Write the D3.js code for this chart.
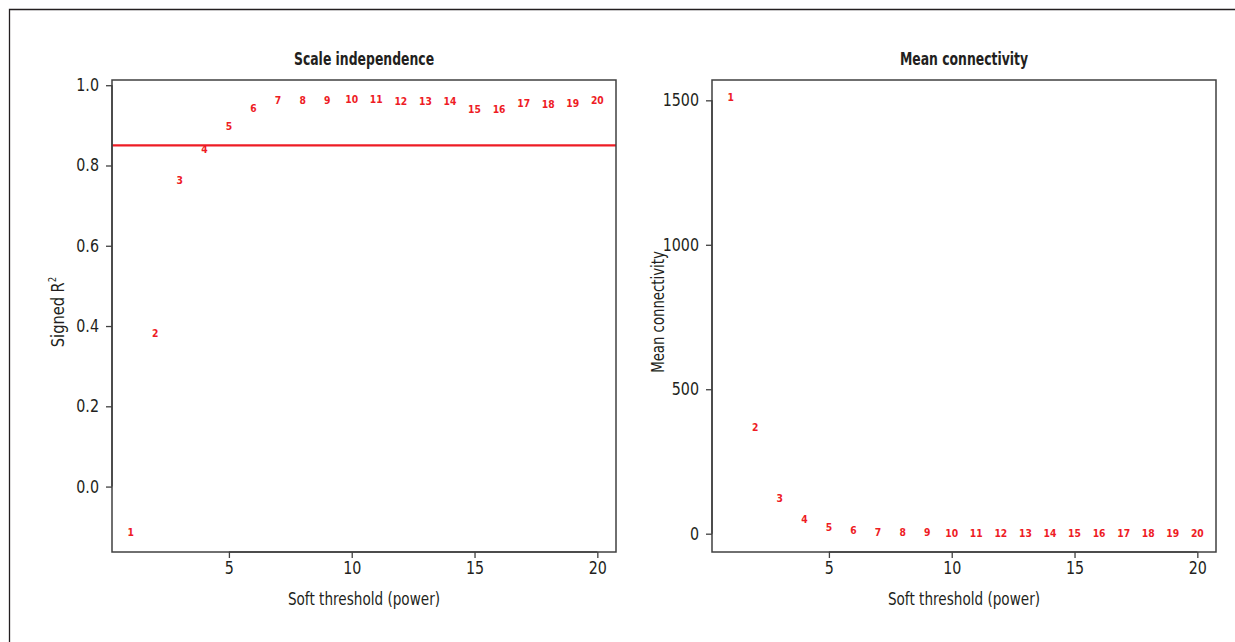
<!DOCTYPE html>
<meta charset="utf-8">
<style>
body { margin: 0; background: #fff; }
svg text { font-family: "DejaVu Sans", sans-serif; fill: #231f20; }
.tick text { font-size: 17px; }
.ptlab { font-size: 11px; font-weight: bold; fill: #ee1c25; }
.title { font-size: 17px; font-weight: bold; }
.axtitle { font-size: 17px; }
.frame { fill: none; stroke: #404040; stroke-width: 1.5; }
</style>
<svg width="1235" height="642"></svg>
<script src="https://d3js.org/d3.v7.min.js"></script>
<script>
// soft threshold powers
var powers = d3.range(1, 21);
// signed R^2 of the scale-free fit
var signedR2 = [-0.114, 0.383, 0.764, 0.840, 0.899, 0.944, 0.964, 0.964, 0.964, 0.965,
                0.965, 0.961, 0.960, 0.961, 0.941, 0.941, 0.956, 0.953, 0.956, 0.963];
// mean connectivity
var meanK = [1510, 370, 123, 52, 23, 11.5, 6, 5.5, 5, 3, 3, 1, 2.5, 1.5, 2.5, 1.5, 1.5, 2, 2, 1.5];
var xTicks = [5, 10, 15, 20];
var yTicksLeft = [0, 0.2, 0.4, 0.6, 0.8, 1.0];
var yTicksRight = [0, 500, 1000, 1500];
var cutoff = 0.85;

var svg = d3.select("svg");

// no condensed face installed, so squeeze glyphs horizontally
function condense(sel, k) {
  sel.each(function() {
    var w = this.getComputedTextLength();
    d3.select(this).attr("textLength", w * k).attr("lengthAdjust", "spacingAndGlyphs");
  });
}

// outer frame of the figure
svg.append("path")
    .attr("d", "M9.5,642V9.5H1235")
    .attr("fill", "none")
    .attr("stroke", "#231f20")
    .attr("stroke-width", 1.3);

function pad(ext) {
  var w = ext[1] - ext[0];
  return [ext[0] - 0.04 * w, ext[1] + 0.04 * w];
}

function panel(opts) {
  var left = opts.left, right = opts.left + 504, top = 80, bottom = 552;
  var x = d3.scaleLinear().domain(pad(d3.extent(powers))).range([left, right]);
  var y = d3.scaleLinear().domain(opts.yDomain).range([bottom, top]);
  var g = svg.append("g");

  if (opts.hline != null) {
    g.append("line")
        .attr("x1", left).attr("x2", right)
        .attr("y1", y(opts.hline)).attr("y2", y(opts.hline))
        .attr("stroke", "#ee1c25").attr("stroke-width", 2.2);
  }

  g.append("rect").attr("class", "frame")
      .attr("x", left).attr("y", top)
      .attr("width", right - left).attr("height", bottom - top);

  var xa = g.append("g")
      .attr("transform", "translate(0," + bottom + ")")
      .call(d3.axisBottom(x).tickValues(xTicks).tickSize(6).tickPadding(4).tickFormat(d3.format("d")));
  xa.select(".domain").attr("d", "M" + x(xTicks[0]) + ",0H" + x(xTicks[xTicks.length - 1]))
      .attr("stroke", "#404040").attr("stroke-width", 1.5);

  var ya = g.append("g")
      .attr("transform", "translate(" + left + ",0)")
      .call(d3.axisLeft(y).tickValues(opts.yTicks).tickSize(6).tickPadding(7).tickFormat(opts.fmt));
  ya.select(".domain").attr("d", "M0," + y(opts.yTicks[0]) + "V" + y(opts.yTicks[opts.yTicks.length - 1]))
      .attr("stroke", "#404040").attr("stroke-width", 1.5);
  g.selectAll(".tick line").attr("stroke", "#404040").attr("stroke-width", 1.3);
  g.selectAll(".tick text").attr("fill", "#231f20").call(condense, 0.84);

  g.selectAll(".ptlab")
      .data(opts.values)
    .enter().append("text")
      .attr("class", "ptlab")
      .attr("x", function(d, i) { return x(powers[i]); })
      .attr("y", function(d) { return y(d); })
      .attr("dy", "0.35em")
      .attr("text-anchor", "middle")
      .text(function(d, i) { return powers[i]; })
      .call(condense, 0.84);

  g.append("text").attr("class", "title")
      .attr("x", (left + right) / 2).attr("y", 65)
      .attr("text-anchor", "middle")
      .text(opts.title)
      .call(condense, 0.73);

  g.append("text").attr("class", "axtitle")
      .attr("x", (left + right) / 2).attr("y", 605)
      .attr("text-anchor", "middle")
      .text("Soft threshold (power)")
      .call(condense, 0.8);

  var yl = g.append("text").attr("class", "axtitle")
      .attr("transform", "translate(" + opts.ylabX + "," + ((top + bottom) / 2 - 4) + ") rotate(-90)")
      .attr("text-anchor", "middle");
  opts.ylab(yl);
}

panel({
  left: 112,
  yDomain: [-0.163, 1.013],
  yTicks: yTicksLeft,
  fmt: d3.format(".1f"),
  values: signedR2,
  hline: cutoff,
  title: "Scale independence",
  ylabX: 64,
  ylab: function(t) {
    t.attr("transform", t.attr("transform") + " scale(0.86,1)");
    t.append("tspan").text("Signed R");
    t.append("tspan").attr("font-size", "10px").attr("dy", "-0.8em").text("2");
  }
});

panel({
  left: 712,
  yDomain: pad(d3.extent(meanK)).map(function(v, i) { return i ? v : v - 4; }),
  yTicks: yTicksRight,
  fmt: d3.format("d"),
  values: meanK,
  hline: null,
  title: "Mean connectivity",
  ylabX: 664,
  ylab: function(t) { t.text("Mean connectivity").call(condense, 0.78); }
});
</script>
